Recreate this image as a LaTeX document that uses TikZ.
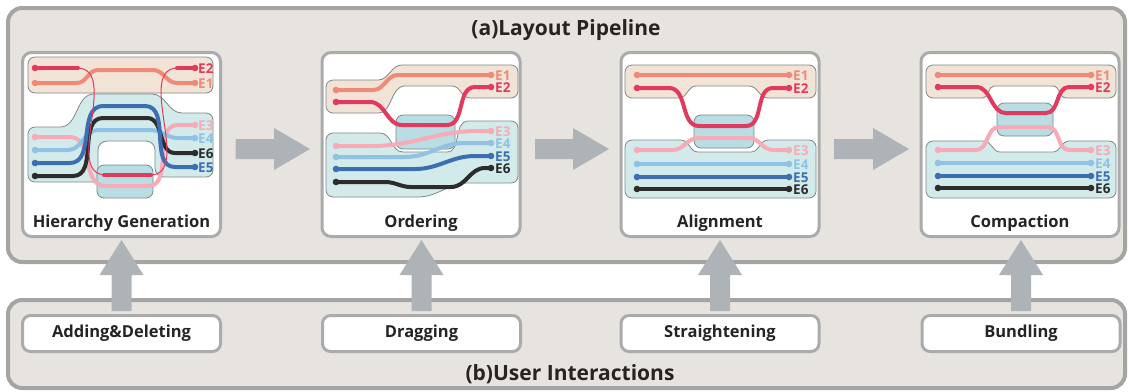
\documentclass[tikz,border=0pt]{standalone}
\usepackage{fontspec}
\setmainfont{Open Sans}
\usetikzlibrary{calc}
\definecolor{panelbg}{HTML}{E7E3DF}
\definecolor{panelborder}{HTML}{A4A4A4}
\definecolor{boxborder}{HTML}{ABABAB}
\definecolor{beige}{HTML}{F2E3D7}
\definecolor{tealc}{HTML}{D3EAEB}
\definecolor{tealdark}{HTML}{B8DDE2}
\definecolor{grpborder}{HTML}{7F8888}
\definecolor{arrowc}{HTML}{AEB3B7}
\definecolor{txt}{HTML}{262322}
\definecolor{cA}{HTML}{F08A78}
\definecolor{cB}{HTML}{E23A5E}
\definecolor{cC}{HTML}{F6ABB6}
\definecolor{cD}{HTML}{8FC2E4}
\definecolor{cE}{HTML}{3B6FB2}
\definecolor{cF}{HTML}{2C2C2C}
\newcommand\tipdots[3]{\fill[#1] #2 circle[radius=3.3pt] #3 circle[radius=3.3pt];}
% fat right arrow from coordinate #1 (tail) to coordinate #2 (tip)
\newcommand\rfatarrow[2]{\fill[fatarrow] ($(#1)+(0,-10)$) -- ($(#2)+(-36,-10)$) -- ($(#2)+(-36,-21)$) -- (#2) -- ($(#2)+(-36,21)$) -- ($(#2)+(-36,10)$) -- ($(#1)+(0,10)$) -- cycle;}
% fat up arrow from coordinate #1 (tail) to coordinate #2 (tip)
\newcommand\ufatarrow[2]{\fill[fatarrow] ($(#1)+(-10,0)$) -- ($(#2)+(-10,35)$) -- ($(#2)+(-22,35)$) -- (#2) -- ($(#2)+(22,35)$) -- ($(#2)+(10,35)$) -- ($(#1)+(10,0)$) -- cycle;}
\begin{document}
\begin{tikzpicture}[x=1pt,y=-1pt,
  outerpanel/.style={draw=panelborder, line width=4pt, fill=panelbg, rounded corners=14pt, inner sep=0pt},
  stagebox/.style={draw=boxborder, line width=3pt, fill=white, rounded corners=9pt, minimum width=198pt, minimum height=184pt, inner sep=0pt},
  actbox/.style={draw=boxborder, line width=3pt, fill=white, rounded corners=8pt, minimum width=198pt, minimum height=36pt, inner sep=0pt, font=\fontsize{16.5}{16.5}\selectfont\bfseries, text=txt},
  beigegrp/.style={fill=beige, draw=grpborder, line width=0.8pt},
  tealgrp/.style={fill=tealc, draw=grpborder, line width=0.8pt},
  tealbox/.style={fill=tealdark, draw=grpborder, line width=0.8pt, rounded corners=7pt},
  ln/.style={line width=4pt, line cap=round, line join=round},
  thinln/.style={line width=1pt},
  elabel/.style={font=\fontsize{13.5}{13.5}\selectfont\bfseries, anchor=west, inner sep=0pt},
  stagelabel/.style={font=\fontsize{16.5}{16.5}\selectfont\bfseries, text=txt, inner sep=0pt},
  titlelabel/.style={font=\fontsize{21}{21}\selectfont\bfseries, text=txt, inner sep=0pt},
  fatarrow/.style={fill=arrowc}
]
\useasboundingbox (0,0) rectangle (1129,391);

% outer panels
\node[outerpanel, minimum width=1117pt, minimum height=254pt] (toppanel) at (566.5,135) {};
\node[outerpanel, minimum width=1117pt, minimum height=88pt] (botpanel) at (566.5,344) {};
\node[titlelabel] (ta) at (566,30) {(a)Layout Pipeline};
\node[titlelabel] (tb) at (570,374) {(b)User Interactions};

% stage panels
\node[stagebox] (p1) at (121.5,144.5) {};
\node[stagebox] (p2) at (421,144.5) {};
\node[stagebox] (p3) at (720,144.5) {};
\node[stagebox] (p4) at (1020,144.5) {};

% interaction boxes
\node[actbox] (b1) at (121.5,333.5) {Adding\&Deleting};
\node[actbox] (b2) at (421.5,333.5) {Dragging};
\node[actbox] (b3) at (720,333.5) {Straightening};
\node[actbox] (b4) at (1021,333.5) {Bundling};

% arrow end points
\coordinate (h1s) at ($(p1.east)+(13.5,4.5)$);
\coordinate (h1t) at ($(p2.west)+(-10.5,4.5)$);
\coordinate (h2s) at ($(p2.east)+(13.5,4.5)$);
\coordinate (h2t) at ($(p3.west)+(-10.5,4.5)$);
\coordinate (h3s) at ($(p3.east)+(13.5,4.5)$);
\coordinate (h3t) at ($(p4.west)+(-10.5,4.5)$);
\coordinate (u1s) at ($(b1.north)+(0,-3)$);
\coordinate (u2s) at ($(b2.north)+(0,-3)$);
\coordinate (u3s) at ($(b3.north)+(0,-3)$);
\coordinate (u4s) at ($(b4.north)+(0,-3)$);
\coordinate (t1) at (b1.north |- 0,240);
\coordinate (t2) at (b2.north |- 0,240);
\coordinate (t3) at (b3.north |- 0,240);
\coordinate (t4) at (b4.north |- 0,240);

% big arrows
\rfatarrow{h1s}{h1t}
\rfatarrow{h2s}{h2t}
\rfatarrow{h3s}{h3t}
\ufatarrow{u1s}{t1}
\ufatarrow{u2s}{t2}
\ufatarrow{u3s}{t3}
\ufatarrow{u4s}{t4}

% ---------- Panel 1: Hierarchy Generation
\path[beigegrp, rounded corners=7pt] (28,57) rectangle (213,93);
\path[tealgrp] (28,175) -- (28,134) to[out=90,in=180] (35,127) -- (60,127) to[out=0,in=180] (94,94) -- (152,94) to[out=0,in=180] (182,113) -- (206,113) to[out=0,in=90] (213,120) -- (213,170) to[out=270,in=0] (206,177) -- (164,177) to[out=180,in=270] (155,168) -- (155,150) to[out=90,in=0] (146,141) -- (107,141) to[out=180,in=90] (98,150) -- (98,182) -- (35,182) to[out=180,in=270] (28,175) -- cycle;
\path[tealbox] (97,165) rectangle (153,198);
\draw[ln, cA] (35,83) -- (77,83) to[out=0,in=180] (98,70) -- (153,70) to[out=0,in=180] (177,83) -- (195,83);
\tipdots{cA}{(35,83)}{(195,83)}
\draw[ln, cC] (35,137) -- (70,137) to[out=0,in=180] (105,186) -- (148,186) to[out=0,in=180] (178,125) -- (195,125);
\tipdots{cC}{(35,137)}{(195,125)}
\draw[ln, cD] (35,150) -- (68,150) to[out=0,in=180] (98,130) -- (150,130) to[out=0,in=180] (178,138) -- (195,138);
\tipdots{cD}{(35,150)}{(195,138)}
\draw[ln, cF] (35,176) -- (73,176) to[out=0,in=180] (103,118) -- (147,118) to[out=0,in=180] (175,153) -- (195,153);
\tipdots{cF}{(35,176)}{(195,153)}
\draw[ln, cE] (35,163) -- (70,163) to[out=0,in=180] (103,106) -- (145,106) to[out=0,in=180] (175,167) -- (195,167);
\tipdots{cE}{(35,163)}{(195,167)}
\draw[thinln, cB] (77,68) to[out=0,in=180] (106,175) -- (150,175) to[out=0,in=180] (178,68);
\draw[ln, cB] (35,68) -- (78,68);
\draw[ln, cB] (104,175) -- (151,175);
\draw[ln, cB] (177,68) -- (195,68);
\tipdots{cB}{(35,68)}{(195,68)}
\node[elabel, text=cB] (l1b) at (198,69) {E2};
\node[elabel, text=cA] (l1a) at (198,83.5) {E1};
\node[elabel, text=cC] (l1c) at (198,126) {E3};
\node[elabel, text=cD] (l1d) at (198,139) {E4};
\node[elabel, text=cF] (l1f) at (198,153.5) {E6};
\node[elabel, text=cE] (l1e) at (198,167.5) {E5};
\node[stagelabel] (s1) at (121.5,223) {Hierarchy Generation};

% ---------- Panel 2: Ordering
\path[beigegrp] (326,106) -- (326,87) to[out=90,in=180] (333,80) -- (378,80) to[out=0,in=180] (402,65) -- (511,65) to[out=0,in=90] (518,72) -- (518,91) to[out=270,in=0] (511,98) -- (470,98) to[out=180,in=0] (452,86) -- (405,86) to[out=180,in=0] (378,113) -- (333,113) to[out=180,in=270] (326,106) -- cycle;
\path[tealgrp] (326,190) -- (326,140) to[out=90,in=180] (333,133) -- (380,133) to[out=0,in=180] (403,152) -- (447,152) to[out=0,in=180] (468,121) -- (511,121) to[out=0,in=90] (518,128) -- (518,176) to[out=270,in=0] (511,183) -- (468,183) to[out=180,in=0] (418,197) -- (333,197) to[out=180,in=270] (326,190) -- cycle;
\path[tealbox] (396,115) rectangle (455,149);
\draw[ln, cA] (336,90) -- (373,90) to[out=0,in=180] (398,75) -- (491,75);
\tipdots{cA}{(336,90)}{(491,75)}
\draw[ln, cB] (336,102) -- (370,102) to[out=0,in=180] (402,125) -- (447,125) to[out=0,in=180] (475,87) -- (491,87);
\tipdots{cB}{(336,102)}{(491,87)}
\draw[ln, cC] (336,146) -- (372,146) to[out=0,in=180] (478,131) -- (491,131);
\tipdots{cC}{(336,146)}{(491,131)}
\draw[ln, cD] (336,157) -- (405,157) to[out=0,in=180] (465,143) -- (491,143);
\tipdots{cD}{(336,157)}{(491,143)}
\draw[ln, cE] (336,169) -- (415,169) to[out=0,in=180] (475,156) -- (491,156);
\tipdots{cE}{(336,169)}{(491,156)}
\draw[ln, cF] (336,182) -- (385,182) to[out=0,in=180] (411,187) -- (451,187) to[out=0,in=180] (485,168) -- (491,168);
\tipdots{cF}{(336,182)}{(491,168)}
\node[elabel, text=cA] (l2a) at (495,75.5) {E1};
\node[elabel, text=cB] (l2b) at (495,88) {E2};
\node[elabel, text=cC] (l2c) at (495,131.5) {E3};
\node[elabel, text=cD] (l2d) at (495,143.5) {E4};
\node[elabel, text=cE] (l2e) at (495,156.5) {E5};
\node[elabel, text=cF] (l2f) at (495,168.5) {E6};
\node[stagelabel] (s2) at (421,223) {Ordering};

% ---------- Panel 3: Alignment
\path[beigegrp] (625,91) -- (625,72) to[out=90,in=180] (632,65) -- (809,65) to[out=0,in=90] (816,72) -- (816,91) to[out=270,in=0] (809,98) -- (768,98) to[out=180,in=0] (749,86) -- (696,86) to[out=180,in=0] (679,98) -- (632,98) to[out=180,in=270] (625,91) -- cycle;
\path[tealgrp] (625,191) -- (625,147) to[out=90,in=180] (632,140) -- (681,140) to[out=0,in=180] (698,152) -- (751,152) to[out=0,in=180] (768,140) -- (809,140) to[out=0,in=90] (816,147) -- (816,191) to[out=270,in=0] (809,198) -- (632,198) to[out=180,in=270] (625,191) -- cycle;
\path[tealbox] (694,115) rectangle (754,148);
\draw[ln, cA] (637,75) -- (789,75);
\tipdots{cA}{(637,75)}{(789,75)}
\draw[ln, cB] (637,88) -- (669,88) to[out=0,in=180] (699,126) -- (746,126) to[out=0,in=180] (773,88) -- (789,88);
\tipdots{cB}{(637,88)}{(789,88)}
\draw[ln, cC] (637,150) -- (673,150) to[out=0,in=180] (698,138) -- (749,138) to[out=0,in=180] (773,150) -- (789,150);
\tipdots{cC}{(637,150)}{(789,150)}
\draw[ln, cD] (637,164) -- (789,164);
\tipdots{cD}{(637,164)}{(789,164)}
\draw[ln, cE] (637,177) -- (789,177);
\tipdots{cE}{(637,177)}{(789,177)}
\draw[ln, cF] (637,189) -- (789,189);
\tipdots{cF}{(637,189)}{(789,189)}
\node[elabel, text=cA] (l3a) at (793,75.5) {E1};
\node[elabel, text=cB] (l3b) at (793,88.5) {E2};
\node[elabel, text=cC] (l3c) at (793,150.5) {E3};
\node[elabel, text=cD] (l3d) at (793,164.5) {E4};
\node[elabel, text=cE] (l3e) at (793,177.5) {E5};
\node[elabel, text=cF] (l3f) at (793,189.5) {E6};
\node[stagelabel] (s3) at (720,223) {Alignment};

% ---------- Panel 4: Compaction
\path[beigegrp] (926,91) -- (926,72) to[out=90,in=180] (933,65) -- (1109,65) to[out=0,in=90] (1116,72) -- (1116,91) to[out=270,in=0] (1109,98) -- (1066,98) to[out=180,in=0] (1053,86) -- (994,86) to[out=180,in=0] (983,98) -- (933,98) to[out=180,in=270] (926,91) -- cycle;
\path[tealgrp] (926,191) -- (926,148) to[out=90,in=180] (933,141) -- (984,141) to[out=0,in=180] (1000,152) -- (1053,152) to[out=0,in=180] (1069,141) -- (1109,141) to[out=0,in=90] (1116,148) -- (1116,191) to[out=270,in=0] (1109,198) -- (933,198) to[out=180,in=270] (926,191) -- cycle;
\path[tealbox] (997,103) rectangle (1053,136);
\draw[ln, cA] (938,75) -- (1091,75);
\tipdots{cA}{(938,75)}{(1091,75)}
\draw[ln, cB] (938,87) -- (976,87) to[out=0,in=180] (1006,113) -- (1046,113) to[out=0,in=180] (1069,87) -- (1091,87);
\tipdots{cB}{(938,87)}{(1091,87)}
\draw[ln, cC] (938,150) -- (976,150) to[out=0,in=180] (999,127) -- (1048,127) to[out=0,in=180] (1069,150) -- (1091,150);
\tipdots{cC}{(938,150)}{(1091,150)}
\draw[ln, cD] (938,163) -- (1091,163);
\tipdots{cD}{(938,163)}{(1091,163)}
\draw[ln, cE] (938,176) -- (1091,176);
\tipdots{cE}{(938,176)}{(1091,176)}
\draw[ln, cF] (938,188) -- (1091,188);
\tipdots{cF}{(938,188)}{(1091,188)}
\node[elabel, text=cA] (l4a) at (1095,75.5) {E1};
\node[elabel, text=cB] (l4b) at (1095,87.5) {E2};
\node[elabel, text=cC] (l4c) at (1095,150.5) {E3};
\node[elabel, text=cD] (l4d) at (1095,163.5) {E4};
\node[elabel, text=cE] (l4e) at (1095,176.5) {E5};
\node[elabel, text=cF] (l4f) at (1095,188.5) {E6};
\node[stagelabel] (s4) at (1020,223) {Compaction};
\end{tikzpicture}
\end{document}
